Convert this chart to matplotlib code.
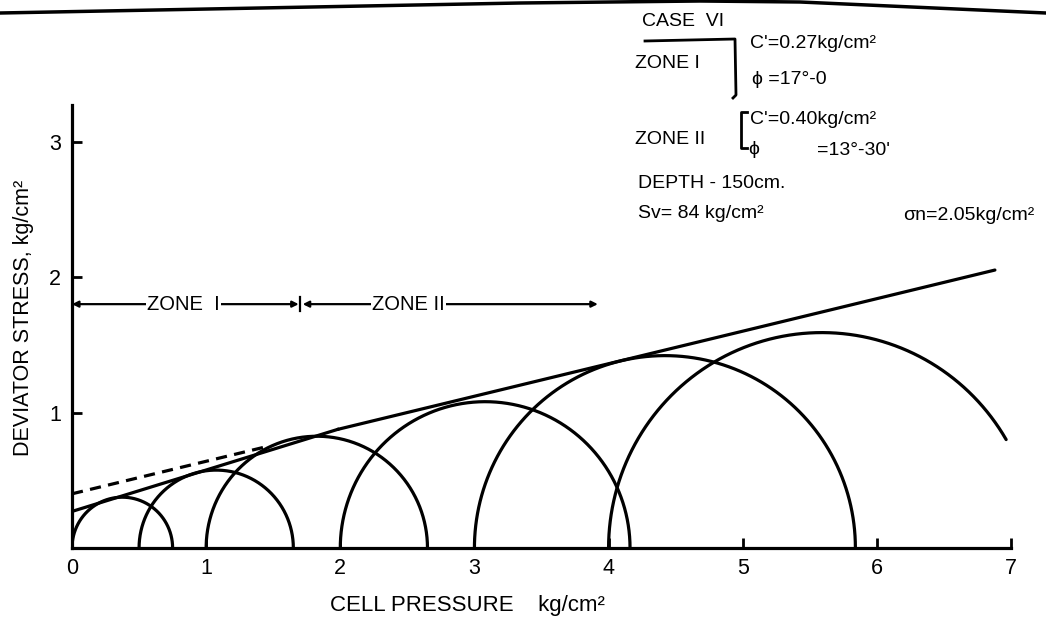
"""Mohr circles and strength envelopes, case VI (depth 150 cm)."""

import numpy as np
import matplotlib.pyplot as plt
from matplotlib.lines import Line2D

plt.rcParams["font.family"] = ["Liberation Sans", "DejaVu Sans"]

W, H = 1046, 628

# failure states: cell pressure (sigma3) and major principal stress (sigma1), kg/cm2
sigma3 = [0.0, 0.5, 1.0, 2.0, 3.0, 4.0]
sigma1 = [0.75, 1.65, 2.65, 4.16, 5.84, 7.18]

# strength parameters of the two zones
c_zone1, phi_zone1 = 0.27, 17.0
c_zone2, phi_zone2 = 0.40, 13.5

x_ticks = [0, 1, 2, 3, 4, 5, 6, 7]
y_ticks = [1, 2, 3]

zone_boundary = 1.70
zone_end = 3.92
zone_level = 1.80
envelope_end = 6.88
dashed_end = 1.45
arc_cut = 6.97

LW = 2.3


def fig_xy(px, py):
    """Pixel position (from top-left) to figure fraction."""
    return px / W, 1 - py / H


fig = plt.figure(figsize=(W / 100, H / 100), dpi=100)
ax = fig.add_axes([72 / W, (H - 548) / H, (1011 - 72) / W, (548 - 105) / H])
ax.set_xlim(0, 7)
ax.set_ylim(0, 3.27)

for side in ("top", "right"):
    ax.spines[side].set_visible(False)
for side in ("left", "bottom"):
    ax.spines[side].set_linewidth(LW)

ax.set_xticks(x_ticks)
ax.set_yticks(y_ticks)
ax.tick_params(direction="in", length=7, width=2, labelsize=15.5)
ax.tick_params(axis="x", pad=7)
ax.tick_params(axis="y", pad=8)

# Mohr circles
for s3, s1 in zip(sigma3, sigma1):
    centre = (s3 + s1) / 2
    radius = (s1 - s3) / 2
    theta = np.linspace(0, np.pi, 400)
    x = centre + radius * np.cos(theta)
    y = radius * np.sin(theta)
    keep = x <= arc_cut
    ax.plot(x[keep], y[keep], color="black", lw=LW, solid_capstyle="round")

# strength envelopes
tan1 = np.tan(np.radians(phi_zone1))
tan2 = np.tan(np.radians(phi_zone2))
x_meet = (c_zone2 - c_zone1) / (tan1 - tan2)

x1 = np.array([0, x_meet])
ax.plot(x1, c_zone1 + tan1 * x1, color="black", lw=LW)
x2 = np.array([x_meet, envelope_end])
ax.plot(x2, c_zone2 + tan2 * x2, color="black", lw=LW, solid_capstyle="round")
x3 = np.array([0, dashed_end])
ax.plot(x3, c_zone2 + tan2 * x3, color="black", lw=LW, dashes=(3.5, 2.3))

# zone extents
arrow = dict(arrowstyle="<|-|>", color="black", lw=1.6, mutation_scale=9,
             shrinkA=0, shrinkB=0)
ax.annotate("", xy=(0, zone_level), xytext=(zone_boundary - 0.01, zone_level),
            arrowprops=arrow, annotation_clip=False)
ax.annotate("", xy=(zone_boundary + 0.02, zone_level), xytext=(zone_end, zone_level),
            arrowprops=arrow, annotation_clip=False)
ax.plot([zone_boundary, zone_boundary], [zone_level - 0.05, zone_level + 0.05],
        color="black", lw=1.6)
box = dict(facecolor="white", edgecolor="none", pad=1)
ax.text(0.83, zone_level, "ZONE  I", fontsize=14.5, ha="center", va="center", bbox=box)
ax.text(2.51, zone_level, "ZONE II", fontsize=14.5, ha="center", va="center", bbox=box)

# axis titles
fig.text(*fig_xy(24, 318), "DEVIATOR STRESS, kg/cm²", rotation=90,
         fontsize=15.5, ha="center", va="center")
fig.text(*fig_xy(330, 606), "CELL PRESSURE    kg/cm²", fontsize=16,
         ha="left", va="center")

# test parameters block
notes = [
    (642, 21, "CASE  VI"),
    (635, 63, "ZONE I"),
    (750, 43, "C'=0.27kg/cm²"),
    (752, 79, "ϕ =17°-0"),
    (635, 140, "ZONE II"),
    (750, 119, "C'=0.40kg/cm²"),
    (748, 149, "ϕ"),
    (817, 150, "=13°-30'"),
    (638, 184, "DEPTH - 150cm."),
    (638, 213, "Sv= 84 kg/cm²"),
    (903, 215, "σn=2.05kg/cm²"),
]
for px, py, label in notes:
    fig.text(*fig_xy(px, py), label, fontsize=14, ha="left", va="center")

# brackets grouping each zone's parameters
for pts in ([(645, 41), (735, 39), (736, 95), (733, 98)],
            [(747, 112), (741, 112), (741, 148), (747, 148)]):
    xs, ys = zip(*(fig_xy(px, py) for px, py in pts))
    fig.add_artist(Line2D(xs, ys, color="black", lw=2.0))

# page edge running across the top
edge = [(0, 13), (260, 8), (520, 3), (700, 1), (800, 2), (1046, 13)]
xs, ys = zip(*(fig_xy(px, py) for px, py in edge))
fig.add_artist(Line2D(xs, ys, color="black", lw=2.5))

fig.savefig("out.png", dpi=100)
